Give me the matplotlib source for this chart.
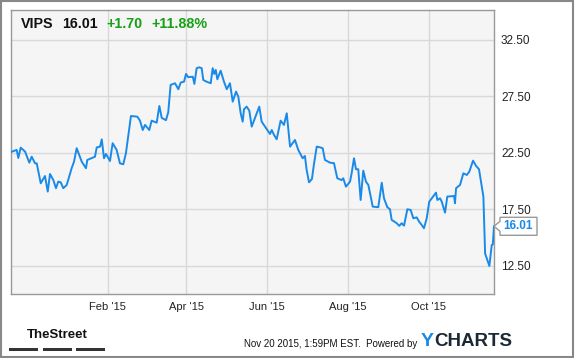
import matplotlib
matplotlib.use("Agg")
import matplotlib.pyplot as plt
from matplotlib.patches import Rectangle, Polygon
import pandas as pd

plt.rcParams['font.family'] = ['Liberation Sans', 'DejaVu Sans']

start_date = "2014-11-20"
day_offsets = [0, 4.3, 5.5, 7.3, 10.6, 13.8, 15.6, 18.1, 19.4, 22.4, 25.6, 27.7, 29.4, 31.9, 33.9,
               35.6, 37.5, 39.4, 42.0, 45.7, 47.5, 49.5, 53.3, 56.5, 57.5, 63.3, 64.6, 67.1, 68.4,
               70.1, 71.6, 74.6, 76.6, 79.6, 82.1, 84.6, 86.6, 90.4, 95.2, 97.2, 99.3, 101.0, 104.2,
               106.0, 109.8, 111.8, 113.6, 116.8, 118.5, 120.3, 123.6, 126.1, 127.9, 130.4, 131.9,
               133.6, 137.0, 138.2, 139.9, 141.9, 143.7, 144.9, 147.5, 150.5, 152.0, 153.2, 154.3,
               155.5, 158.0, 160.5, 162.6, 165.0, 167.1, 169.6, 171.3, 173.1, 174.6, 175.6, 177.6,
               179.6, 181.4, 185.2, 187.1, 188.9, 193.2, 195.2, 196.5, 198.2, 200.2, 203.2, 205.7,
               207.8, 210.3, 214.0, 216.5, 219.8, 221.5, 222.8, 224.6, 226.8, 228.3, 230.4, 232.8,
               234.9, 236.6, 240.4, 243.4, 245.9, 249.2, 250.4, 252.4, 255.5, 256.7, 258.5, 260.0,
               261.7, 263.5, 265.5, 267.5, 269.3, 272.6, 276.8, 279.4, 281.1, 283.6, 285.6, 286.9,
               288.6, 290.7, 292.6, 294.4, 296.2, 298.7, 301.2, 303.2, 305.7, 307.7, 309.5, 311.2,
               313.3, 315.2, 320.3, 321.3, 323.3, 324.6, 327.1, 328.8, 333.9, 334.6, 335.4, 338.4,
               340.9, 343.5, 345.4, 348.2, 350.5, 352.7, 354.8, 356.0, 357.3, 360.5, 362.3, 363.1, 364.0]
prices = [22.59, 22.77, 22.06, 22.97, 22.62, 21.64, 22.17, 21.58, 21.58, 19.82, 20.46, 19.08, 20.64,
          20.10, 19.38, 19.96, 19.90, 19.38, 19.67, 21.15, 21.73, 22.92, 21.73, 21.15, 21.88, 22.17,
          22.99, 23.06, 23.70, 22.03, 22.41, 21.79, 23.36, 22.77, 21.58, 21.50, 22.47, 25.77, 25.71,
          25.36, 24.53, 24.98, 24.53, 25.36, 25.18, 26.66, 25.60, 25.40, 26.10, 28.52, 28.67, 28.14,
          28.73, 28.81, 29.49, 29.20, 29.25, 28.61, 30.00, 30.08, 30.00, 28.96, 28.80, 28.67, 30.00,
          29.49, 29.85, 29.02, 29.78, 28.81, 28.14, 28.67, 27.04, 27.93, 27.48, 26.01, 25.27, 26.37,
          26.60, 26.24, 24.83, 26.01, 26.60, 25.27, 24.53, 24.18, 24.53, 24.10, 23.71, 25.36, 24.98,
          26.01, 23.06, 23.65, 22.77, 22.03, 22.23, 21.00, 19.90, 20.20, 21.50, 23.06, 23.00, 22.92,
          21.88, 21.64, 21.60, 20.26, 20.10, 20.26, 19.52, 19.96, 20.70, 22.03, 21.06, 21.06, 18.34,
          20.94, 19.96, 19.67, 17.75, 17.70, 19.87, 18.49, 17.70, 17.52, 16.57, 16.45, 16.28, 16.05,
          16.28, 16.07, 17.52, 17.46, 16.72, 16.80, 16.40, 16.13, 15.84, 16.72, 18.19, 18.99, 18.34,
          18.49, 18.20, 17.22, 18.64, 18.69, 18.05, 19.38, 19.67, 20.70, 20.55, 20.85, 21.82, 21.35,
          21.06, 19.52, 18.64, 13.60, 12.50, 14.36, 14.40, 16.01]
y_ticks = [12.5, 17.5, 22.5, 27.5, 32.5]
x_tick_dates = ["2015-02-01", "2015-04-01", "2015-06-01", "2015-08-01", "2015-10-01"]
x_tick_labels = ["Feb '15", "Apr '15", "Jun '15", "Aug '15", "Oct '15"]
ticker = "VIPS"
last_price = "16.01"
change = "+1.70"
change_pct = "+11.88%"

W, H = 575, 358
fig = plt.figure(figsize=(W / 100, H / 100), dpi=100)
fig.patch.set_facecolor("white")

def fx(px):
    return px / W

def fy(py):
    return 1 - py / H

ax = fig.add_axes([fx(11), fy(294), fx(494) - fx(11), fy(10) - fy(294)])
ax.set_facecolor("#f5f5f5")

dates = pd.Timestamp(start_date) + pd.to_timedelta(day_offsets, unit="D")
ax.plot(dates, prices, color="#1a8ae8", lw=1.4, solid_joinstyle="round", zorder=3)

t0 = pd.Timestamp(start_date)
ax.set_xlim(t0, t0 + pd.Timedelta(days=364))
ax.set_ylim(10.02, 35.15)

ax.set_yticks(y_ticks)
ax.set_yticklabels([f"{v:.2f}" for v in y_ticks])
ax.yaxis.tick_right()
ax.set_xticks(pd.to_datetime(x_tick_dates))
ax.set_xticklabels(x_tick_labels)
ax.tick_params(axis="both", length=0, colors="#222222")
ax.tick_params(axis="y", pad=5, labelsize=8.5)
ax.tick_params(axis="x", pad=6, labelsize=8)
ax.grid(True, color="#d8d8d8", lw=1)
ax.set_axisbelow(True)
for s in ax.spines.values():
    s.set_color("#999999")
    s.set_linewidth(1)

# header
fig.text(fx(21), fy(24), ticker, fontsize=10.3, fontweight="bold", color="#111111", va="center")
fig.text(fx(62), fy(24), last_price, fontsize=10.3, fontweight="bold", color="#111111", va="center")
fig.text(fx(106), fy(24), change, fontsize=10.3, fontweight="bold", color="#16a016", va="center")
fig.text(fx(151), fy(24), change_pct, fontsize=10.3, fontweight="bold", color="#16a016", va="center")

# last price flag
ylast = prices[-1]
disp = ax.transData.transform((0, ylast))
yfig = fig.transFigure.inverted().transform(disp)[1]
hh = 9 / H
poly = Polygon([[fx(494), yfig], [fx(500), yfig + 5 / H], [fx(500), yfig + hh],
                [fx(537), yfig + hh], [fx(537), yfig - hh], [fx(500), yfig - hh],
                [fx(500), yfig - 5 / H]], closed=True, transform=fig.transFigure,
               facecolor="white", edgecolor="#999999", lw=1, zorder=5)
fig.patches.append(poly)
fig.text(fx(518.5), yfig, last_price, fontsize=8.5, fontweight="bold", color="#1a8ae8",
         ha="center", va="center", zorder=6)

# footer
fig.text(fx(57.5), fy(335.5), "TheStreet", fontsize=9.5, fontweight="bold",
         color="#111111", ha="center", va="center")
for x0, x1 in [(9, 38), (43, 72), (76, 105)]:
    fig.patches.append(Rectangle((fx(x0), fy(351)), fx(x1) - fx(x0), 3 / H,
                                 transform=fig.transFigure, facecolor="#333333", edgecolor="none"))
fig.text(fx(417), fy(344), "Nov 20 2015, 1:59PM EST.  Powered by", fontsize=7.0, color="#111111",
         ha="right", va="center")
fig.text(fx(421), fy(341), "Y", fontsize=14, fontweight="bold", color="#1a8ae8", ha="left", va="center")
fig.text(fx(434), fy(341), "CHARTS", fontsize=13.5, fontweight="bold", color="#1b2836", ha="left", va="center")

# outer frame
fig.patches.append(Rectangle((fx(1), fy(357)), fx(573) - fx(1), fy(1) - fy(357),
                             transform=fig.transFigure, facecolor="none", edgecolor="#888888", lw=1.5))

fig.savefig("out.png", dpi=100)
